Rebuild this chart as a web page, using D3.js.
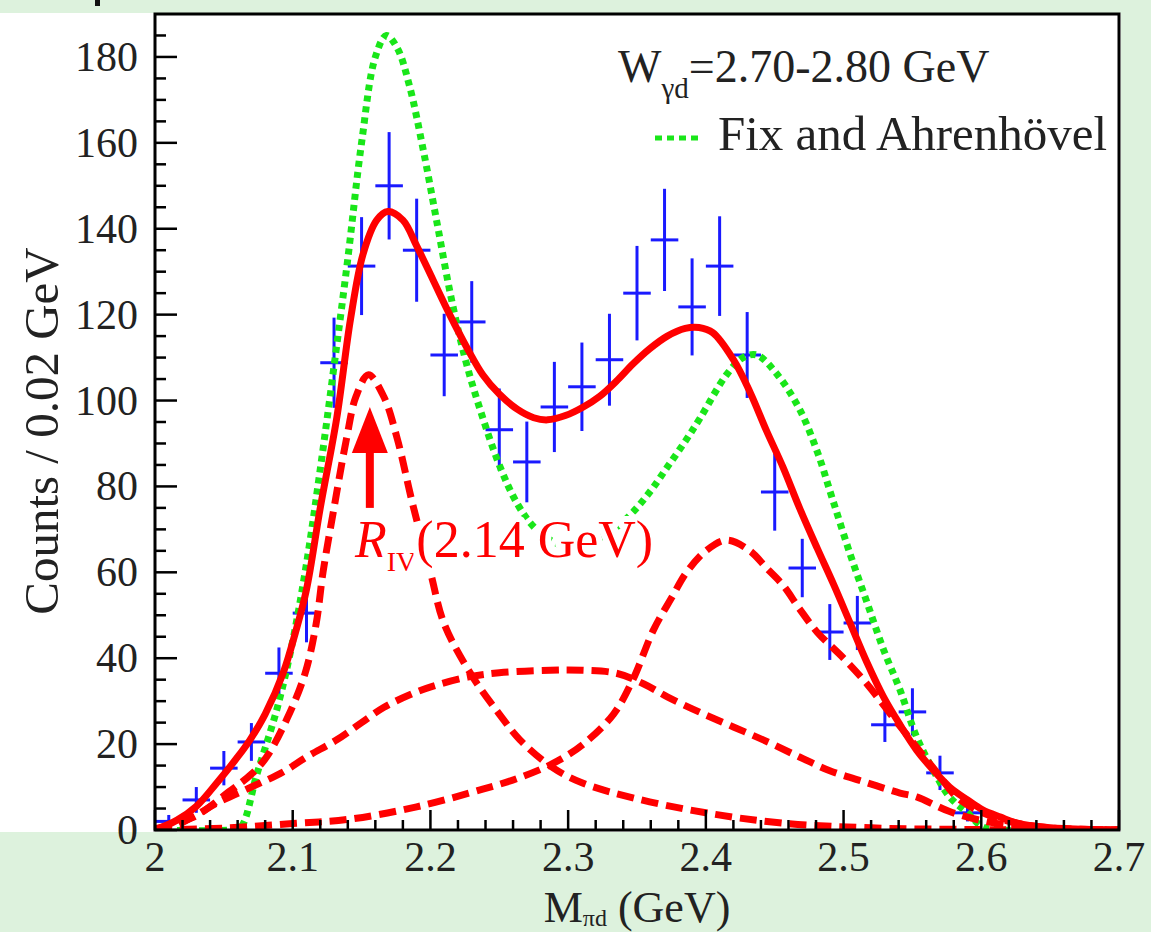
<!DOCTYPE html>
<html lang="en">
<head>
<meta charset="UTF-8">
<title>M pi d spectrum</title>
<script src="https://cdnjs.cloudflare.com/ajax/libs/d3/7.8.5/d3.min.js"></script>
<style>
  body { margin: 0; background: #ddf2dd; font-family: "Liberation Serif", "DejaVu Serif", serif; }
  svg { display: block; }
</style>
</head>
<body>
<div id="chart"></div>
<script>
// measured counts in 0.02 GeV bins
const binCenters = [2.01, 2.03, 2.05, 2.07, 2.09, 2.11, 2.13, 2.15, 2.17, 2.19,
                    2.21, 2.23, 2.25, 2.27, 2.29, 2.31, 2.33, 2.35, 2.37, 2.39,
                    2.41, 2.43, 2.45, 2.47, 2.49, 2.51, 2.53, 2.55, 2.57, 2.59];
const counts = [2, 7, 14.4, 20.5, 36.5, 50.5, 108.8, 131.3, 150, 135,
                110.6, 118.3, 93.2, 85.7, 98.5, 103.2, 109.5, 125, 137.4, 121.8,
                131.3, 110.6, 78.7, 61, 46.1, 48.2, 24.5, 27.5, 13.3, 4];
const errors = [1.5, 3, 4, 4.4, 6, 6.8, 10.5, 11.4, 12.5, 12,
                9.6, 9.5, 9.6, 9.4, 10.5, 10.3, 10.7, 11, 11.9, 11.3,
                11.6, 10, 9, 6.8, 6.5, 6.3, 4, 5.5, 4, 2];

// total fit (red solid), [M, counts]
const fitTotal = [[2.000, 0], [2.016, 2.3], [2.030, 5.5], [2.045, 11], [2.060, 17], [2.069, 21],
  [2.080, 27], [2.093, 36.5], [2.102, 46], [2.110, 56], [2.120, 75], [2.132, 96], [2.142, 119],
  [2.151, 134], [2.161, 142], [2.169, 144], [2.180, 142], [2.190, 136], [2.202, 128], [2.214, 120],
  [2.227, 112], [2.238, 106], [2.250, 101.5], [2.263, 98], [2.275, 96], [2.285, 95.5], [2.298, 96.5],
  [2.311, 98.5], [2.323, 101], [2.335, 104.5], [2.347, 108.5], [2.359, 112], [2.372, 115],
  [2.385, 116.8], [2.395, 117], [2.405, 115.8], [2.420, 109.5], [2.432, 102], [2.444, 93],
  [2.456, 84.5], [2.468, 75], [2.481, 65.5], [2.493, 57], [2.505, 48], [2.517, 39], [2.529, 31],
  [2.541, 24.5], [2.553, 18.6], [2.565, 14], [2.577, 10], [2.590, 7], [2.601, 4.7], [2.614, 3],
  [2.626, 1.6], [2.650, 0.5], [2.680, 0.1], [2.700, 0]];

// R_IV component (red dashed)
const compRIV = [[2.000, 0.3], [2.028, 3], [2.054, 9], [2.070, 13], [2.081, 17], [2.096, 26],
  [2.109, 36.5], [2.117, 48], [2.122, 60], [2.130, 75], [2.139, 91], [2.146, 101], [2.155, 106],
  [2.166, 101], [2.176, 91], [2.187, 76], [2.200, 60], [2.210, 48], [2.230, 36], [2.250, 27],
  [2.265, 21], [2.288, 14.7], [2.310, 11], [2.347, 7.5], [2.400, 4], [2.456, 1.6], [2.520, 0.5],
  [2.600, 0.1], [2.700, 0]];

// broad component (red dashed)
const compBroad = [[2.000, 0], [2.011, 0.5], [2.030, 3.5], [2.045, 6.3], [2.070, 10], [2.093, 13.5],
  [2.110, 17], [2.132, 21], [2.150, 25], [2.166, 28.5], [2.185, 31.5], [2.202, 33.5], [2.227, 35.6],
  [2.250, 36.6], [2.287, 37.2], [2.310, 37.2], [2.335, 36.5], [2.355, 34], [2.372, 31], [2.395, 27.5],
  [2.420, 24], [2.445, 20.5], [2.468, 17], [2.490, 13.8], [2.517, 11], [2.541, 8.6], [2.553, 7.7],
  [2.577, 4.3], [2.600, 2.2], [2.625, 0.9], [2.650, 0.3], [2.700, 0]];

// upper component (red dashed)
const compUpper = [[2.000, 0], [2.054, 0.5], [2.100, 1.5], [2.141, 2.5], [2.190, 5.4], [2.238, 9.5],
  [2.263, 12], [2.289, 15.5], [2.311, 20], [2.333, 27], [2.347, 35], [2.362, 46.6], [2.375, 54],
  [2.386, 60], [2.400, 65], [2.415, 67.5], [2.432, 65], [2.444, 61], [2.456, 57], [2.468, 51.5],
  [2.481, 46], [2.500, 40], [2.517, 34], [2.534, 27], [2.553, 19.3], [2.568, 13.3], [2.582, 7.7],
  [2.601, 4], [2.626, 1.6], [2.650, 0.5], [2.700, 0]];

// Fix and Ahrenhövel (green dotted)
const fixAhrenhovel = [[2.000, 0], [2.055, 0], [2.062, 0.5], [2.074, 13], [2.089, 28.7], [2.100, 44],
  [2.110, 62], [2.120, 84], [2.130, 108], [2.140, 133], [2.150, 160], [2.160, 180], [2.168, 185],
  [2.176, 182], [2.185, 173], [2.195, 158], [2.205, 141], [2.215, 124], [2.225, 110], [2.235, 99],
  [2.250, 85], [2.263, 76], [2.275, 70.6], [2.290, 67], [2.305, 66], [2.320, 67.5], [2.335, 70.5],
  [2.347, 74], [2.360, 79], [2.372, 84.5], [2.385, 90.5], [2.396, 96], [2.415, 106], [2.427, 110],
  [2.437, 110.6], [2.452, 106], [2.468, 98], [2.481, 88], [2.492, 77], [2.505, 64], [2.517, 53],
  [2.529, 42], [2.541, 32.6], [2.553, 21.7], [2.565, 14], [2.577, 7.7], [2.590, 4], [2.601, 0.7],
  [2.615, 0], [2.700, 0]];

const xTickLabels = ["2", "2.1", "2.2", "2.3", "2.4", "2.5", "2.6", "2.7"];
const yTickLabels = ["0", "20", "40", "60", "80", "100", "120", "140", "160", "180"];

// arrow marking R_IV
const arrowM = 2.156;
const arrowFrom = 75;
const arrowTo = 98.5;

const W = 1151, H = 932;
const frame = {left: 155, right: 1119, top: 14, bottom: 830};

const svg = d3.select("#chart").append("svg")
  .attr("width", W).attr("height", H);

// slide background: white canvas area, green around it
svg.append("rect").attr("width", W).attr("height", H).attr("fill", "#ddf2dd");
svg.append("rect").attr("x", 0).attr("y", 13).attr("width", 1121).attr("height", 819).attr("fill", "#fff");
svg.append("rect").attr("x", 95).attr("y", 0).attr("width", 5).attr("height", 6).attr("fill", "#111");

const x = d3.scaleLinear().domain([2, 2.7]).range([frame.left, frame.right]);
const y = d3.scaleLinear().domain([0, 190]).range([frame.bottom, frame.top]);

svg.append("defs").append("clipPath").attr("id", "plotclip")
  .append("rect").attr("x", frame.left).attr("y", frame.top)
  .attr("width", frame.right - frame.left).attr("height", frame.bottom - frame.top);

const plot = svg.append("g").attr("clip-path", "url(#plotclip)");

// data points with error bars
const pts = plot.append("g").attr("stroke", "#1a1aff").attr("stroke-width", 3);
binCenters.forEach((c, i) => {
  pts.append("line")
    .attr("x1", x(c)).attr("x2", x(c))
    .attr("y1", y(counts[i] - errors[i])).attr("y2", y(counts[i] + errors[i]));
  pts.append("line")
    .attr("x1", x(c - 0.01)).attr("x2", x(c + 0.01))
    .attr("y1", y(counts[i])).attr("y2", y(counts[i]));
});

const line = d3.line()
  .x(d => x(d[0])).y(d => y(d[1]))
  .curve(d3.curveCatmullRom.alpha(0.5));

plot.append("path").datum(fixAhrenhovel)
  .attr("d", line).attr("fill", "none")
  .attr("stroke", "#19e619").attr("stroke-width", 7)
  .attr("stroke-dasharray", "6,5");

[compRIV, compBroad, compUpper].forEach(c => {
  plot.append("path").datum(c)
    .attr("d", line).attr("fill", "none")
    .attr("stroke", "#ff0000").attr("stroke-width", 7)
    .attr("stroke-dasharray", "17,8");
});

plot.append("path").datum(fitTotal)
  .attr("d", line).attr("fill", "none")
  .attr("stroke", "#ff0000").attr("stroke-width", 7);

// axes
const axes = svg.append("g").attr("stroke", "#000");
axes.append("rect")
  .attr("x", frame.left).attr("y", frame.top)
  .attr("width", frame.right - frame.left).attr("height", frame.bottom - frame.top)
  .attr("fill", "none").attr("stroke-width", 3);

d3.range(0, 186, 5).forEach(v => {
  const major = v % 20 === 0;
  axes.append("line")
    .attr("x1", frame.left).attr("x2", frame.left + (major ? 22 : 11))
    .attr("y1", y(v)).attr("y2", y(v))
    .attr("stroke-width", 2.5);
});
d3.range(0, 36).forEach(k => {
  const v = 2 + k * 0.02;
  const major = k % 5 === 0;
  axes.append("line")
    .attr("x1", x(v)).attr("x2", x(v))
    .attr("y1", frame.bottom).attr("y2", frame.bottom - (major ? 20 : 10))
    .attr("stroke-width", 2.5);
});

svg.append("g").selectAll("text").data(yTickLabels).join("text")
  .attr("x", 138).attr("y", d => y(+d) + 14)
  .attr("text-anchor", "end").attr("font-size", 42).attr("fill", "#222")
  .text(d => d);

svg.append("g").selectAll("text").data(xTickLabels).join("text")
  .attr("x", d => x(+d)).attr("y", 871)
  .attr("text-anchor", "middle").attr("font-size", 42).attr("fill", "#222")
  .text(d => d);

// axis titles
svg.append("text")
  .attr("transform", "translate(58,431) rotate(-90)")
  .attr("text-anchor", "middle").attr("font-size", 49).attr("fill", "#222")
  .text("Counts / 0.02 GeV");

const xt = svg.append("text")
  .attr("x", 637).attr("y", 922)
  .attr("text-anchor", "middle").attr("font-size", 44).attr("fill", "#222");
xt.append("tspan").text("M");
xt.append("tspan").attr("font-size", 24).attr("dy", 4).text("πd");
xt.append("tspan").attr("dy", -4).text(" (GeV)");

// legend
const lw = svg.append("text").attr("x", 618).attr("y", 82)
  .attr("font-size", 46).attr("fill", "#222");
lw.append("tspan").text("W");
lw.append("tspan").attr("font-size", 29).attr("dy", 16).text("γd");
lw.append("tspan").attr("dy", -16).text("=2.70-2.80 GeV");

svg.append("line")
  .attr("x1", 655).attr("x2", 703).attr("y1", 138).attr("y2", 138)
  .attr("stroke", "#19e619").attr("stroke-width", 5).attr("stroke-dasharray", "7,5");
svg.append("text").attr("x", 718).attr("y", 150)
  .attr("font-size", 49).attr("fill", "#222")
  .text("Fix and Ahrenhövel");

// R_IV marker
const ax = x(arrowM);
svg.append("line")
  .attr("x1", ax).attr("x2", ax).attr("y1", y(arrowFrom)).attr("y2", y(arrowTo) + 35)
  .attr("stroke", "#ff0000").attr("stroke-width", 8);
svg.append("path")
  .attr("d", `M${ax},${y(arrowTo)} L${ax - 18},${y(arrowTo) + 46} L${ax + 18},${y(arrowTo) + 46} Z`)
  .attr("fill", "#ff0000");

const lab = svg.append("text").attr("x", 355).attr("y", 557)
  .attr("font-size", 52).attr("fill", "#ff0000")
  .attr("stroke", "#fff").attr("stroke-width", 12).attr("paint-order", "stroke")
  .attr("stroke-linejoin", "round");
lab.append("tspan").attr("font-style", "italic").text("R");
lab.append("tspan").attr("font-size", 28).attr("dy", 14).text("IV");
lab.append("tspan").attr("dy", -14).text("(2.14 GeV)");
</script>
</body>
</html>
